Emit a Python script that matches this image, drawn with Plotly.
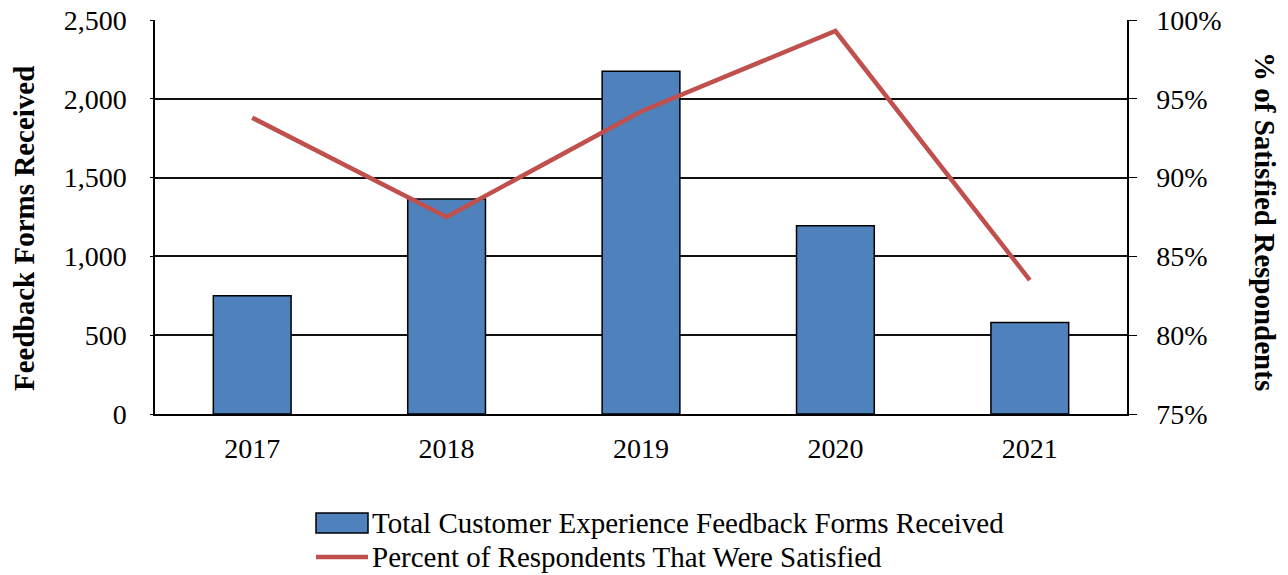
import plotly.graph_objects as go

# Annual customer-experience feedback
years = ["2017", "2018", "2019", "2020", "2021"]
forms_received = [750, 1365, 2175, 1195, 580]
pct_satisfied = [0.938, 0.875, 0.942, 0.993, 0.835]

bar_name = "Total Customer Experience Feedback Forms Received"
line_name = "Percent of Respondents That Were Satisfied"
left_title = "Feedback Forms Received"
right_title = "% of Satisfied Respondents"

BAR_COLOR = "#4F81BD"
LINE_COLOR = "#C0504D"
FONT = "Liberation Serif, Times New Roman, serif"

# Plot-area geometry in pixels
L, R, T, B = 155, 1127, 20, 414
W, H = 1288, 575

fig = go.Figure()
fig.add_trace(go.Bar(
    x=years, y=forms_received, name=bar_name,
    marker=dict(color=BAR_COLOR, line=dict(color="black", width=1.5)),
    yaxis="y", showlegend=False,
))
fig.add_trace(go.Scatter(
    x=years, y=pct_satisfied, name=line_name, mode="lines",
    line=dict(color=LINE_COLOR, width=4.5),
    yaxis="y2", showlegend=False,
))

fig.update_layout(
    width=W, height=H,
    margin=dict(l=L, r=W - R, t=T, b=H - B, autoexpand=False),
    paper_bgcolor="white", plot_bgcolor="white",
    font=dict(family=FONT, size=28, color="black"),
    bargap=0.6,
    xaxis=dict(
        type="category", showline=True, linecolor="black", linewidth=1.5,
        ticks="", showgrid=False, ticklabelstandoff=9, automargin=False,
    ),
    yaxis=dict(
        range=[0, 2500], dtick=500, tickformat=",",
        showline=True, linecolor="black", linewidth=1.5,
        ticks="outside", ticklen=3, tickcolor="black",
        showgrid=True, gridcolor="#111111", gridwidth=1.5,
        ticklabelstandoff=18, zeroline=False, automargin=False,
    ),
    yaxis2=dict(
        range=[0.75, 1.0], dtick=0.05, tickformat=".0%",
        overlaying="y", side="right",
        showline=True, linecolor="black", linewidth=1.5,
        ticks="outside", ticklen=8, tickcolor="black",
        showgrid=False, ticklabelstandoff=14, zeroline=False, automargin=False,
    ),
)


def px_x(px):
    return (px - L) / (R - L)


def px_y(py):
    return (B - py) / (B - T)


# Axis titles
fig.add_annotation(
    text=f"<b>{left_title}</b>", xref="paper", yref="paper",
    x=px_x(24), y=px_y(229), textangle=-90, showarrow=False,
    xanchor="center", yanchor="middle", font=dict(size=29),
)
fig.add_annotation(
    text=f"<b>{right_title}</b>", xref="paper", yref="paper",
    x=px_x(1265), y=px_y(221), textangle=90, showarrow=False,
    xanchor="center", yanchor="middle", font=dict(size=29),
)

# Legend drawn below the plot area
fig.add_shape(
    type="rect", xref="paper", yref="paper",
    x0=px_x(316), x1=px_x(368), y0=px_y(533), y1=px_y(513),
    fillcolor=BAR_COLOR, line=dict(color="black", width=1.5),
)
fig.add_shape(
    type="line", xref="paper", yref="paper",
    x0=px_x(316), x1=px_x(368), y0=px_y(557), y1=px_y(557),
    line=dict(color=LINE_COLOR, width=4.5),
)
fig.add_annotation(
    text=bar_name, xref="paper", yref="paper",
    x=px_x(370), y=px_y(523), xanchor="left", yanchor="middle",
    showarrow=False, font=dict(size=29),
)
fig.add_annotation(
    text=line_name, xref="paper", yref="paper",
    x=px_x(370), y=px_y(557), xanchor="left", yanchor="middle",
    showarrow=False, font=dict(size=29),
)

fig.write_html("out.html")
